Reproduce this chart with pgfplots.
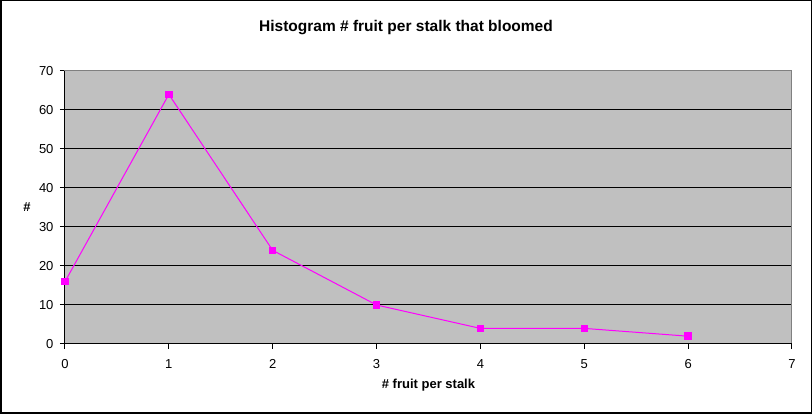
\documentclass[border=0pt]{standalone}
\usepackage{pgfplots}
\pgfplotsset{compat=1.18}
\usepackage{fontspec}
\setmainfont{Liberation Sans}
\definecolor{plotgray}{RGB}{192,192,192}
\definecolor{framegray}{RGB}{128,128,128}
\definecolor{fuchsia}{RGB}{255,0,255}
\begin{document}
\begin{tikzpicture}[x=1pt,y=1pt]
\useasboundingbox (0,0) rectangle (812,414);
\draw[black, line width=1.5pt] (0.75,0.75) rectangle (811.25,413.25);
\node[font=\fontsize{15.5}{18}\selectfont\bfseries] at (406,386) {Histogram \# fruit per stalk that bloomed};
\begin{axis}[
at={(65pt,70pt)}, anchor=south west,
scale only axis,
width=727pt, height=273pt,
xmin=0, xmax=7, ymin=0, ymax=70,
xtick={0,1,...,7},
ytick={0,10,...,70},
axis background/.style={fill=plotgray},
axis line style={framegray, line width=1pt},
tick align=outside,
xtick pos=bottom, ytick pos=left,
major tick length=5pt,
tick style={black, line width=1pt},
ymajorgrids=true,
grid style={black, line width=1pt},
tick label style={font=\fontsize{13}{15}\selectfont},
xticklabel style={yshift=-7pt},
yticklabel style={xshift=-3pt},
/pgf/number format/assume math mode=true,
every axis x label/.style={at={(rel axis cs:0.5,0)}, anchor=center, yshift=-41pt},
every axis y label/.style={at={(rel axis cs:0,0.5)}, anchor=center, xshift=-38pt},
label style={font=\fontsize{13}{15}\selectfont\bfseries},
xlabel={\# fruit per stalk},
ylabel={\#},
clip=false,
]
\addplot[color=fuchsia, line width=1pt, mark=square*, mark size=3.2pt, mark options={solid, fill=fuchsia}]
coordinates {
	(0,16)
	(1,64)
	(2,24)
	(3,10)
	(4,4)
	(5,4)
	(6,2)
};
\draw[black, line width=1pt] (rel axis cs:0,1) -- (rel axis cs:0,0) -- (rel axis cs:1,0);
\end{axis}
\end{tikzpicture}
\end{document}
